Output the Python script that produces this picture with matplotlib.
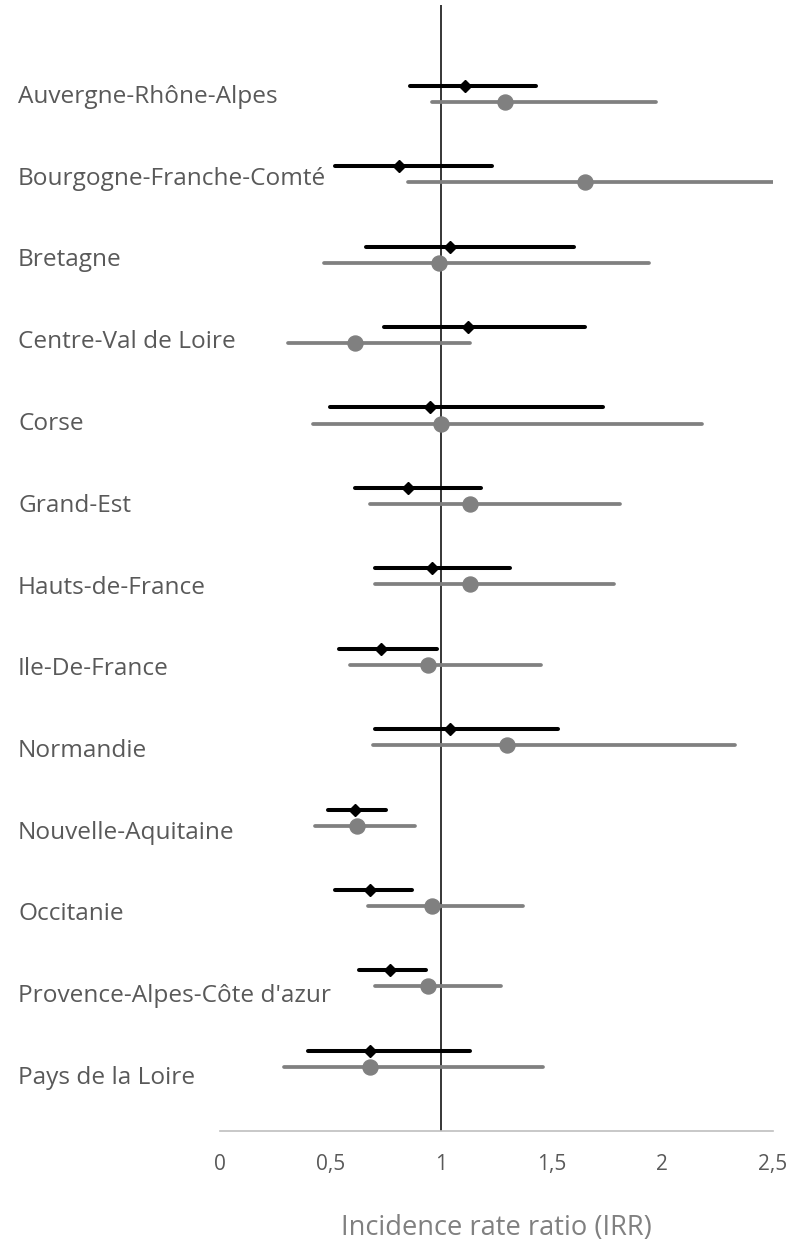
import numpy as np
import matplotlib.pyplot as plt

regions = ["Auvergne-Rhône-Alpes", "Bourgogne-Franche-Comté", "Bretagne",
           "Centre-Val de Loire", "Corse", "Grand-Est", "Hauts-de-France",
           "Ile-De-France", "Normandie", "Nouvelle-Aquitaine", "Occitanie",
           "Provence-Alpes-Côte d'azur", "Pays de la Loire"]

# black series (diamonds)
irr_a = [1.11, 0.81, 1.04, 1.12, 0.95, 0.85, 0.96, 0.73, 1.04, 0.61, 0.68, 0.77, 0.68]
low_a = [0.86, 0.52, 0.66, 0.74, 0.50, 0.61, 0.70, 0.54, 0.70, 0.49, 0.52, 0.63, 0.40]
high_a = [1.43, 1.23, 1.60, 1.65, 1.73, 1.18, 1.31, 0.98, 1.53, 0.75, 0.87, 0.93, 1.13]

# gray series (circles)
irr_b = [1.29, 1.65, 0.99, 0.61, 1.00, 1.13, 1.13, 0.94, 1.30, 0.62, 0.96, 0.94, 0.68]
low_b = [0.96, 0.85, 0.47, 0.31, 0.42, 0.68, 0.70, 0.59, 0.69, 0.43, 0.67, 0.70, 0.29]
high_b = [1.97, 2.60, 1.94, 1.13, 2.18, 1.81, 1.78, 1.45, 2.33, 0.88, 1.37, 1.27, 1.46]

xticks = [0, 0.5, 1, 1.5, 2, 2.5]
xtick_labels = ["0", "0,5", "1", "1,5", "2", "2,5"]

plt.rcParams['font.family'] = ['Open Sans', 'DejaVu Sans']

fig = plt.figure(figsize=(7.91, 12.4), dpi=100)
ax = fig.add_axes([0.278, 0.088, 0.699, 0.908])

n = len(regions)
ypos = np.arange(n)[::-1].astype(float)
offset = 0.2
gray = '#808080'

for i in range(n):
    ax.plot([low_b[i], high_b[i]], [ypos[i], ypos[i]], color=gray, lw=2.7,
            solid_capstyle='round', zorder=2)
    ax.plot([low_a[i], high_a[i]], [ypos[i] + offset] * 2, color='black', lw=2.9,
            solid_capstyle='round', zorder=3)
ax.plot(irr_b, ypos, 'o', color=gray, markersize=10.8, zorder=4)
ax.plot(irr_a, ypos + offset, 'D', color='black', markersize=6.3, zorder=5)

ax.axvline(1, color='black', lw=1.1, zorder=1)

ax.set_xlim(0, 2.5)
ax.set_ylim(-0.796, 13.206)
ax.set_xticks(xticks)
ax.set_xticklabels(xtick_labels, fontsize=15, color='#595959')
ax.tick_params(axis='x', length=0, pad=17)
ax.set_yticks([])
for s in ['top', 'right', 'left']:
    ax.spines[s].set_visible(False)
ax.spines['bottom'].set_color('#bfbfbf')
ax.spines['bottom'].set_linewidth(1.2)
ax.set_xlabel("Incidence rate ratio (IRR)", fontsize=19.6, color='#808080', labelpad=28)

# region labels, left aligned in the margin
label_top = 1 - 103 / 1240
label_bot = 1 - 1084 / 1240
for name, yf in zip(regions, np.linspace(label_top, label_bot, n)):
    fig.text(18 / 791, yf, name, fontsize=17.6, color='#595959',
             ha='left', va='baseline')

fig.savefig("out.png", dpi=100)
